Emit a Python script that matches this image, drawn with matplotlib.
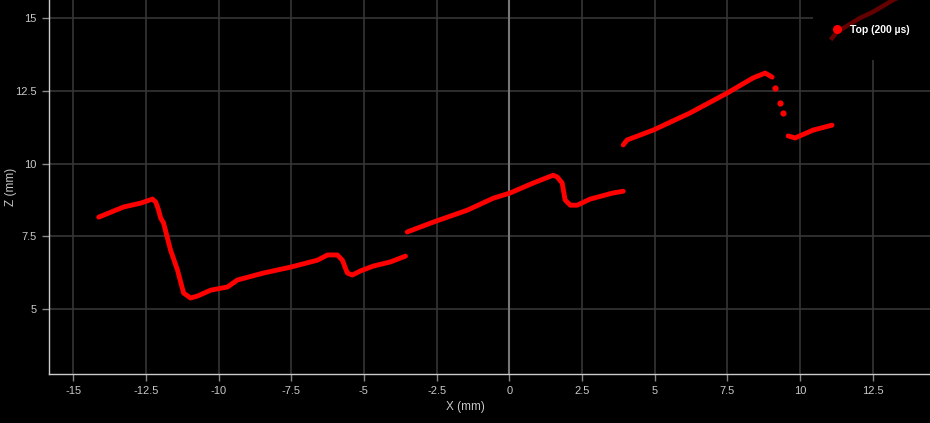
import numpy as np
import matplotlib
matplotlib.use("Agg")
import matplotlib.pyplot as plt
from matplotlib.lines import Line2D
from matplotlib.patches import Rectangle

plt.rcParams['font.family'] = ['Liberation Sans', 'DejaVu Sans']

# Segment data (X mm, Z mm)
seg1_x = [-14.12, -13.26, -12.68, -12.27, -12.16, -12.06, -11.99, -11.89, -11.65, -11.41, -11.20, -10.96,
          -10.72, -10.27, -9.69, -9.35, -8.45, -7.53, -6.60, -6.25, -5.91, -5.74, -5.57, -5.40, -5.12,
          -4.67, -4.09, -3.57]
seg1_z = [8.16, 8.51, 8.64, 8.78, 8.68, 8.40, 8.13, 7.96, 7.03, 6.34, 5.55, 5.38,
          5.45, 5.65, 5.76, 6.00, 6.24, 6.44, 6.68, 6.86, 6.86, 6.68, 6.24, 6.17, 6.31,
          6.48, 6.62, 6.82]
seg2_x = [-3.51, -2.61, -1.44, -0.55, 0.03, 0.82, 1.51, 1.65, 1.82, 1.92, 2.10, 2.34, 2.78, 3.57, 3.92]
seg2_z = [7.65, 7.99, 8.40, 8.81, 8.99, 9.33, 9.60, 9.54, 9.33, 8.75, 8.57, 8.57, 8.78, 8.99, 9.05]
seg3_x = [3.92, 4.05, 4.95, 6.22, 7.49, 8.38, 8.80, 9.04]
seg3_z = [10.64, 10.81, 11.15, 11.74, 12.42, 12.94, 13.11, 12.97]
dots_x = [9.14, 9.31, 9.42]
dots_z = [12.59, 12.08, 11.74]
seg4_x = [9.59, 9.83, 10.45, 11.10]
seg4_z = [10.95, 10.88, 11.15, 11.32]
ghost_x = [11.10, 11.27, 12.06, 12.51, 13.20, 13.8]
ghost_z = [14.31, 14.52, 15.00, 15.21, 15.62, 15.9]

x_ticks = [-15, -12.5, -10, -7.5, -5, -2.5, 0, 2.5, 5, 7.5, 10, 12.5]
x_labels = ['-15', '-12.5', '-10', '-7.5', '-5', '-2.5', '0', '2.5', '5', '7.5', '10', '12.5']
y_ticks = [5, 7.5, 10, 12.5, 15]
y_labels = ['5', '7.5', '10', '12.5', '15']

RED = '#ff0000'
AX_L = 48.7
AX_W = 930 - AX_L
AX_H = 374
fig = plt.figure(figsize=(9.3, 4.23), dpi=100, facecolor='black')
ax = fig.add_axes([AX_L / 930, 49 / 423, AX_W / 930, AX_H / 423])
ax.set_facecolor('black')
ax.set_xlim(-15.84, 14.47)
ax.set_ylim(2.77, 15.62)

ax.set_xticks(x_ticks)
ax.set_xticklabels(x_labels)
ax.set_yticks(y_ticks)
ax.set_yticklabels(y_labels)
ax.grid(True, color='#363636', linewidth=1.2)
ax.axvline(0, color='#777777', linewidth=1.5, zorder=1)
ax.set_axisbelow(True)

for s in ['top', 'right']:
    ax.spines[s].set_visible(False)
for s in ['left', 'bottom']:
    ax.spines[s].set_color('#cccccc')
    ax.spines[s].set_linewidth(1)
ax.tick_params(colors='#bbbbbb', labelsize=8, length=5, width=1, color='#888888')
for lbl in ax.get_xticklabels() + ax.get_yticklabels():
    lbl.set_color('#c8c8c8')
ax.set_xlabel('X (mm)', color='#c8c8c8', fontsize=8.5)
ax.set_ylabel('Z (mm)', color='#c8c8c8', fontsize=8.5)
ax.xaxis.set_label_coords((465 - AX_L) / AX_W, (374 - 401) / AX_H)
ax.yaxis.set_label_coords((17 - AX_L) / AX_W, 0.5)

for xs, zs in [(seg1_x, seg1_z), (seg2_x, seg2_z), (seg3_x, seg3_z), (seg4_x, seg4_z)]:
    ax.plot(xs, zs, color=RED, linewidth=3.5, solid_capstyle='round', solid_joinstyle='round', zorder=3)
ax.plot(dots_x, dots_z, 'o', color=RED, markersize=4.5, markeredgewidth=0, zorder=3)

# legend background panel
ax.add_patch(Rectangle(((813 - AX_L) / AX_W, (374 - 60) / AX_H), 1.0, 1.0,
                       transform=ax.transAxes, facecolor='black', edgecolor='none',
                       zorder=4, clip_on=False))
ax.plot(ghost_x, ghost_z, color='#650000', linewidth=3.2, zorder=4.5)

handle = Line2D([], [], marker='o', color=RED, linestyle='None', markersize=5.5)
leg = ax.legend([handle], ['Top (200 µs)'], loc='center left', frameon=False,
                bbox_to_anchor=((831.8 - AX_L) / AX_W, (374 - 30) / AX_H),
                prop={'weight': 'bold', 'size': 7.5}, handlelength=1.0,
                handletextpad=0.75, borderaxespad=0.0, borderpad=0.0)
leg.set_zorder(6)
for t in leg.get_texts():
    t.set_color('white')

fig.savefig('out.png', dpi=100, facecolor='black')
